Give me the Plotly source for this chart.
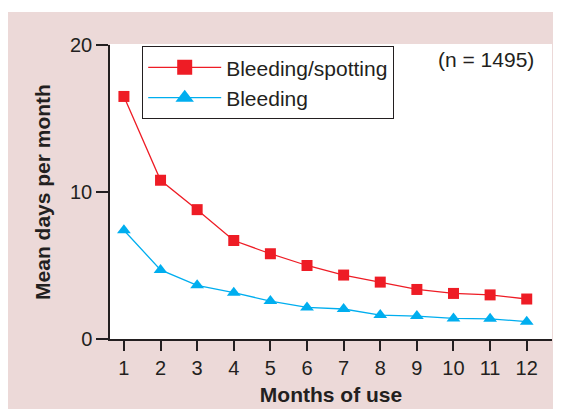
import plotly.graph_objects as go

months = [1, 2, 3, 4, 5, 6, 7, 8, 9, 10, 11, 12]
bleeding_spotting = [16.5, 10.8, 8.8, 6.7, 5.8, 5.0, 4.35, 3.87, 3.37, 3.1, 3.0, 2.72]
bleeding = [7.4, 4.7, 3.65, 3.15, 2.58, 2.15, 2.04, 1.63, 1.56, 1.4, 1.37, 1.18]
y_ticks = [0, 10, 20]
series_names = ["Bleeding/spotting", "Bleeding"]
n_label = "(n = 1495)"

RED = "#ee1c25"
BLUE = "#00aeef"
PINK = "#ecd9d8"
DARK = "#231f20"
FONT = "Arial, Liberation Sans, sans-serif"

fig = go.Figure()
fig.add_trace(go.Scatter(
    x=months, y=bleeding_spotting, name=series_names[0], mode="lines+markers",
    line=dict(color=RED, width=1.3),
    marker=dict(symbol="square", size=11, color=RED), showlegend=False,
))
fig.add_trace(go.Scatter(
    x=months, y=bleeding, name=series_names[1], mode="lines+markers",
    line=dict(color=BLUE, width=1.3),
    marker=dict(symbol="triangle-up", size=12, color=BLUE), showlegend=False,
))
# legend entries (larger symbols as in the reference)
fig.add_trace(go.Scatter(
    x=[None], y=[None], name=series_names[0], mode="lines+markers",
    line=dict(color=RED, width=1.3), marker=dict(symbol="square", size=15, color=RED),
))
fig.add_trace(go.Scatter(
    x=[None], y=[None], name=series_names[1], mode="lines+markers",
    line=dict(color=BLUE, width=1.3), marker=dict(symbol="triangle-up", size=17, color=BLUE),
))

# background panel (pink) and white plot area
fig.add_shape(type="rect", xref="paper", yref="paper", x0=-0.2308, x1=1.03, y0=-0.25, y1=1.112,
              fillcolor=PINK, line=dict(width=0), layer="below")
fig.add_shape(type="rect", xref="paper", yref="paper", x0=0, x1=1, y0=0, y1=1.003,
              fillcolor="white", line=dict(width=0), layer="below")

fig.add_annotation(text=n_label, xref="paper", yref="paper", x=0.964, y=0.95,
                   xanchor="right", yanchor="middle", showarrow=False,
                   font=dict(family=FONT, size=21, color=DARK))

fig.update_layout(
    width=553, height=401,
    margin=dict(l=102, r=9, t=37, b=70, autoexpand=False),
    paper_bgcolor="white", plot_bgcolor="rgba(0,0,0,0)",
    font=dict(family=FONT, size=20, color=DARK),
    legend=dict(x=0.0724, y=0.9966, xanchor="left", yanchor="top",
                bgcolor="white", bordercolor=DARK, borderwidth=1.2,
                font=dict(family=FONT, size=21, color=DARK),
                itemwidth=73, tracegroupgap=0),
    showlegend=True,
)
fig.update_xaxes(
    range=[0.62, 12.69], tickmode="array", tickvals=months, ticktext=[str(m) for m in months],
    showgrid=False, zeroline=False, showline=True, linecolor=DARK, linewidth=1.5,
    ticks="outside", ticklen=10, tickwidth=1.5, tickcolor=DARK,
    tickfont=dict(family=FONT, size=20, color=DARK),
    title=dict(text="<b>Months of use</b>", font=dict(family=FONT, size=21, color=DARK), standoff=10),
)
fig.update_yaxes(
    range=[0, 20], tickmode="array", tickvals=y_ticks,
    showgrid=False, zeroline=False, showline=True, linecolor=DARK, linewidth=1.5,
    ticks="outside", ticklen=12, tickwidth=1.5, tickcolor=DARK,
    tickfont=dict(family=FONT, size=20, color=DARK),
    title=dict(text="<b>Mean days per month</b>", font=dict(family=FONT, size=21, color=DARK), standoff=14),
)

fig.write_html("out.html")
